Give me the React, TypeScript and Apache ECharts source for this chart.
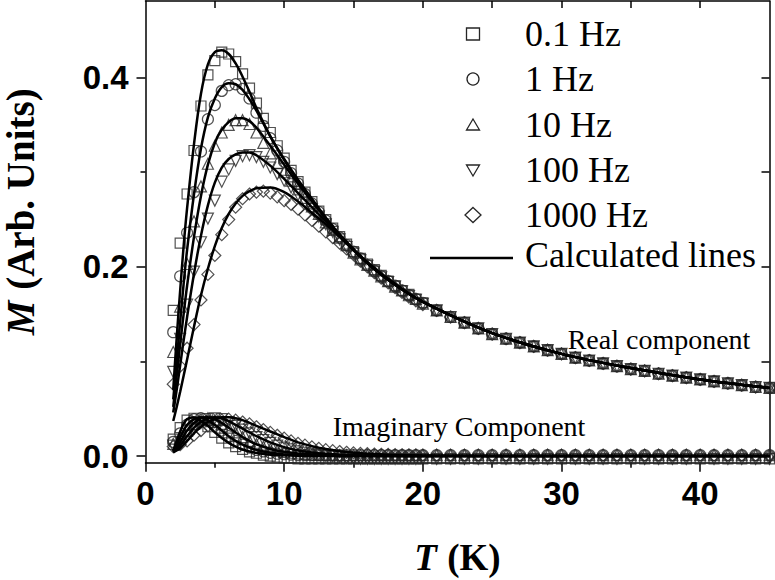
import React, { useEffect, useRef } from 'react';
import * as echarts from 'echarts';

// Temperatures of the measured points (K)
const pointT = [2, 2.5, 3, 3.5, 4, 4.5, 5, 5.5, 6, 6.5, 7, 7.5, 8, 8.5, 9, 9.5, 10, 10.5, 11, 11.5, 12, 12.5, 13, 13.5, 14, 14.5, 15, 15.5, 16, 16.5, 17, 17.5, 18, 18.5, 19, 19.5, 20,
  21, 22, 23, 24, 25, 26, 27, 28, 29, 30, 31, 32, 33, 34, 35, 36, 37, 38, 39, 40, 41, 42, 43, 44, 45];

// Real component, 2–20 K
const real01 = [0.154, 0.225, 0.277, 0.323, 0.370, 0.403, 0.418, 0.427, 0.425, 0.417, 0.404, 0.389, 0.373, 0.357, 0.342, 0.328, 0.315, 0.302, 0.290, 0.279, 0.269, 0.259, 0.250, 0.241, 0.232, 0.224, 0.216, 0.209, 0.203, 0.197, 0.191, 0.185, 0.180, 0.175, 0.171, 0.166, 0.162];
const real1 = [0.131, 0.190, 0.236, 0.279, 0.322, 0.356, 0.371, 0.386, 0.392, 0.393, 0.388, 0.378, 0.363, 0.349, 0.336, 0.323, 0.311, 0.299, 0.288, 0.277, 0.267, 0.258, 0.249, 0.240, 0.231, 0.223, 0.216, 0.209, 0.202, 0.196, 0.190, 0.185, 0.180, 0.175, 0.170, 0.166, 0.162];
const real10 = [0.110, 0.158, 0.203, 0.248, 0.285, 0.309, 0.328, 0.342, 0.350, 0.355, 0.355, 0.351, 0.342, 0.331, 0.320, 0.310, 0.300, 0.291, 0.282, 0.273, 0.264, 0.256, 0.247, 0.239, 0.231, 0.223, 0.215, 0.208, 0.202, 0.196, 0.190, 0.185, 0.179, 0.175, 0.170, 0.166, 0.161];
const real100 = [0.089, 0.124, 0.160, 0.195, 0.226, 0.251, 0.270, 0.290, 0.303, 0.312, 0.317, 0.318, 0.316, 0.311, 0.305, 0.298, 0.291, 0.284, 0.276, 0.268, 0.261, 0.253, 0.245, 0.237, 0.229, 0.221, 0.214, 0.207, 0.201, 0.195, 0.189, 0.184, 0.179, 0.174, 0.169, 0.165, 0.161];
const real1000 = [0.076, 0.095, 0.114, 0.139, 0.165, 0.192, 0.212, 0.234, 0.250, 0.263, 0.272, 0.277, 0.279, 0.280, 0.278, 0.274, 0.270, 0.266, 0.261, 0.255, 0.249, 0.243, 0.237, 0.231, 0.225, 0.219, 0.213, 0.206, 0.200, 0.194, 0.188, 0.183, 0.178, 0.173, 0.168, 0.164, 0.160];
// Real component, 21–45 K (all frequencies coincide)
const realTail = [0.154, 0.147, 0.141, 0.135, 0.129, 0.124, 0.120, 0.116, 0.112, 0.108, 0.104, 0.101, 0.098, 0.095, 0.092, 0.090, 0.087, 0.085, 0.083, 0.081, 0.079, 0.077, 0.075, 0.073, 0.072];

// Imaginary component, 2–20 K
const imag01 = [0.018, 0.030, 0.038, 0.040, 0.036, 0.031, 0.025, 0.019, 0.014, 0.010, 0.007, 0.0045, 0.003, 0.001, 0.0, -0.001, -0.002, -0.002, -0.003, -0.003, -0.003, -0.003, -0.003, -0.003, -0.003, -0.003, -0.003, -0.003, -0.003, -0.003, -0.003, -0.003, -0.003, -0.003, -0.003, -0.003, -0.003];
const imag1 = [0.015, 0.024, 0.033, 0.039, 0.040, 0.037, 0.032, 0.027, 0.021, 0.016, 0.012, 0.009, 0.0065, 0.005, 0.0035, 0.0025, 0.002, 0.0015, 0.001, 0.001, 0.001, 0.001, 0.001, 0.001, 0.001, 0.001, 0.001, 0.001, 0.001, 0.001, 0.001, 0.001, 0.001, 0.001, 0.001, 0.001, 0.001];
const imag10 = [0.013, 0.019, 0.027, 0.034, 0.039, 0.040, 0.038, 0.034, 0.030, 0.025, 0.020, 0.016, 0.0125, 0.0098, 0.0075, 0.006, 0.0045, 0.0035, 0.0027, 0.002, 0.0016, 0.0013, 0.001, 0.001, 0.001, 0.001, 0.001, 0.001, 0.001, 0.001, 0.001, 0.001, 0.001, 0.001, 0.001, 0.001, 0.001];
const imag100 = [0.011, 0.015, 0.021, 0.029, 0.035, 0.039, 0.040, 0.039, 0.036, 0.032, 0.028, 0.024, 0.020, 0.017, 0.014, 0.011, 0.009, 0.007, 0.005, 0.0035, 0.0025, 0.0015, 0.0005, 0.0, -0.001, -0.002, -0.002, -0.003, -0.003, -0.003, -0.003, -0.003, -0.003, -0.003, -0.003, -0.003, -0.003];
const imag1000 = [0.010, 0.012, 0.016, 0.022, 0.027, 0.032, 0.036, 0.038, 0.039, 0.038, 0.036, 0.034, 0.031, 0.028, 0.025, 0.022, 0.019, 0.016, 0.0135, 0.0115, 0.0098, 0.0082, 0.0068, 0.0057, 0.0048, 0.004, 0.0034, 0.0029, 0.0025, 0.0022, 0.0019, 0.0017, 0.0015, 0.0014, 0.0013, 0.0012, 0.0011];
// Imaginary component, 21–45 K
const imagTailUpper = [0.001, 0.001, 0.001, 0.001, 0.001, 0.001, 0.001, 0.001, 0.001, 0.001, 0.001, 0.001, 0.001, 0.001, 0.001, 0.001, 0.001, 0.001, 0.001, 0.001, 0.001, 0.001, 0.001, 0.001, 0.001];
const imagTailLower = [-0.003, -0.003, -0.003, -0.003, -0.003, -0.003, -0.003, -0.003, -0.003, -0.003, -0.003, -0.003, -0.003, -0.003, -0.003, -0.003, -0.003, -0.003, -0.003, -0.003, -0.003, -0.003, -0.003, -0.003, -0.003];

// Calculated lines
const lineT = [2, 2.25, 2.5, 2.75, 3, 3.5, 4, 4.5, 5, 5.5, 6, 6.5, 7, 7.5, 8, 9, 10, 11, 12, 13, 14, 16, 18, 20, 25, 30, 35, 40, 45];
const calcReal01 = [0.07, 0.125, 0.175, 0.222, 0.262, 0.330, 0.383, 0.414, 0.427, 0.429, 0.425, 0.415, 0.401, 0.385, 0.368, 0.338, 0.314, 0.292, 0.272, 0.252, 0.234, 0.204, 0.181, 0.163, 0.130, 0.108, 0.093, 0.081, 0.072];
const calcReal1 = [0.06, 0.10, 0.142, 0.182, 0.218, 0.277, 0.325, 0.358, 0.378, 0.390, 0.394, 0.393, 0.387, 0.377, 0.365, 0.338, 0.313, 0.291, 0.271, 0.252, 0.234, 0.204, 0.181, 0.163, 0.130, 0.108, 0.093, 0.081, 0.072];
const calcReal10 = [0.052, 0.085, 0.118, 0.150, 0.180, 0.232, 0.275, 0.308, 0.331, 0.345, 0.353, 0.357, 0.357, 0.354, 0.347, 0.328, 0.308, 0.288, 0.269, 0.251, 0.234, 0.204, 0.181, 0.163, 0.130, 0.108, 0.093, 0.081, 0.072];
const calcReal100 = [0.046, 0.070, 0.096, 0.122, 0.147, 0.193, 0.233, 0.265, 0.289, 0.305, 0.314, 0.319, 0.321, 0.321, 0.318, 0.307, 0.293, 0.278, 0.263, 0.248, 0.232, 0.204, 0.181, 0.163, 0.130, 0.108, 0.093, 0.081, 0.072];
const calcReal1000 = [0.037, 0.052, 0.068, 0.085, 0.102, 0.137, 0.170, 0.198, 0.222, 0.241, 0.256, 0.267, 0.275, 0.280, 0.283, 0.284, 0.279, 0.269, 0.257, 0.245, 0.232, 0.205, 0.182, 0.163, 0.130, 0.108, 0.093, 0.081, 0.072];
const calcImag01 = [0.006, 0.016, 0.026, 0.034, 0.039, 0.041, 0.037, 0.032, 0.025, 0.019, 0.014, 0.010, 0.007, 0.0048, 0.0033, 0.0015, 0.0008, 0.0004, 0.0002, 0.0001, 0, 0, 0, 0, 0, 0, 0, 0, 0];
const calcImag1 = [0.005, 0.012, 0.020, 0.027, 0.033, 0.039, 0.041, 0.038, 0.033, 0.027, 0.021, 0.016, 0.012, 0.009, 0.0065, 0.0035, 0.0018, 0.001, 0.0005, 0.0003, 0.0002, 0.0001, 0, 0, 0, 0, 0, 0, 0];
const calcImag10 = [0.005, 0.009, 0.015, 0.021, 0.027, 0.035, 0.040, 0.041, 0.039, 0.035, 0.030, 0.025, 0.020, 0.016, 0.0125, 0.0075, 0.0045, 0.0027, 0.0016, 0.001, 0.0006, 0.0002, 0.0001, 0, 0, 0, 0, 0, 0];
const calcImag100 = [0.004, 0.007, 0.011, 0.016, 0.021, 0.030, 0.036, 0.040, 0.041, 0.040, 0.037, 0.033, 0.029, 0.025, 0.021, 0.0145, 0.0095, 0.006, 0.0038, 0.0024, 0.0015, 0.0006, 0.0003, 0.0001, 0, 0, 0, 0, 0];
const calcImag1000 = [0.004, 0.006, 0.008, 0.012, 0.016, 0.024, 0.031, 0.036, 0.039, 0.041, 0.041, 0.040, 0.038, 0.035, 0.032, 0.026, 0.020, 0.0145, 0.0105, 0.0075, 0.0052, 0.0025, 0.0012, 0.0006, 0.0001, 0, 0, 0, 0];

const freqNames = ['0.1 Hz', '1 Hz', '10 Hz', '100 Hz', '1000 Hz'];
const lineName = 'Calculated lines';
const xMajorTicks = [0, 10, 20, 30, 40];
const xMinorTicks = [5, 15, 25, 35];
const xTopTicks = [5, 10, 15, 20, 25, 30, 35, 40];
const yMajorTicks = [0, 0.2, 0.4];
const yMinorTicks = [0.1, 0.3];
const yRightTicks = [0, 0.1, 0.2, 0.3, 0.4];

const zip = (xs: number[], ys: number[]) => xs.map((x, i) => [x, ys[i]]);

export default function App() {
  const ref = useRef<HTMLDivElement>(null);

  useEffect(() => {
    const chart = echarts.init(ref.current!, null, { renderer: 'svg' });

    const symbols = [
      { symbol: 'rect', rotate: 0, size: 10 },
      { symbol: 'circle', rotate: 0, size: 11 },
      { symbol: 'triangle', rotate: 0, size: 11 },
      { symbol: 'triangle', rotate: 180, size: 11 },
      { symbol: 'diamond', rotate: 0, size: 12 },
    ];
    const realLow = [real01, real1, real10, real100, real1000];
    const imagLow = [imag01, imag1, imag10, imag100, imag1000];
    const imagTails = [imagTailLower, imagTailUpper, imagTailUpper, imagTailLower, imagTailUpper];
    const calcReal = [calcReal01, calcReal1, calcReal10, calcReal100, calcReal1000];
    const calcImag = [calcImag01, calcImag1, calcImag10, calcImag100, calcImag1000];

    const markerColor = '#262626';
    const markerStyle = { color: 'rgba(0,0,0,0)', borderColor: markerColor, borderWidth: 1.2 };

    const series: any[] = [];
    freqNames.forEach((name, i) => {
      const s = symbols[i];
      series.push({
        type: 'scatter', name, symbol: s.symbol, symbolRotate: s.rotate, symbolSize: s.size,
        itemStyle: markerStyle, z: 2,
        data: zip(pointT, realLow[i].concat(realTail)),
      });
      series.push({
        type: 'scatter', name, symbol: s.symbol, symbolRotate: s.rotate, symbolSize: s.size,
        itemStyle: markerStyle, z: 2,
        data: zip(pointT, imagLow[i].concat(imagTails[i])),
      });
    });
    [...calcReal, ...calcImag].forEach((vals) => {
      series.push({
        type: 'line', name: lineName, symbol: 'none', smooth: 0.35, z: 3,
        lineStyle: { color: '#000', width: 2.5 }, itemStyle: { color: '#000' },
        data: zip(lineT, vals),
      });
    });

    // Legend drawn as graphic elements (symbol + text per row)
    const legendX = 473;
    const textX = 525;
    const rowY = [34, 79, 125, 170, 215];
    const lineRowY = 258;
    const stroke = { fill: 'none', stroke: markerColor, lineWidth: 1.3 };
    const legendShapes: any[] = [
      { type: 'rect', shape: { x: legendX - 6.5, y: rowY[0] - 6, width: 13, height: 12 }, style: stroke },
      { type: 'circle', shape: { cx: legendX, cy: rowY[1], r: 6 }, style: stroke },
      { type: 'polygon', shape: { points: [[legendX, rowY[2] - 6], [legendX + 6.5, rowY[2] + 5], [legendX - 6.5, rowY[2] + 5]] }, style: stroke },
      { type: 'polygon', shape: { points: [[legendX, rowY[3] + 6], [legendX + 6.5, rowY[3] - 5], [legendX - 6.5, rowY[3] - 5]] }, style: stroke },
      { type: 'polygon', shape: { points: [[legendX, rowY[4] - 7.5], [legendX + 8, rowY[4]], [legendX, rowY[4] + 7.5], [legendX - 8, rowY[4]]] }, style: stroke },
      { type: 'line', shape: { x1: 430, y1: lineRowY, x2: 513, y2: lineRowY }, style: { stroke: '#000', lineWidth: 2.5 } },
    ];
    const legendTexts: any[] = [...freqNames, lineName].map((t, i) => ({
      type: 'text', x: textX, y: i < 5 ? rowY[i] : lineRowY - 3,
      style: { text: t, fontFamily: 'Liberation Serif', fontSize: 36, fill: '#000', align: 'left', verticalAlign: 'middle' },
    }));

    const axisLineStyle = { color: '#000', width: 1.5 };
    const tickLabel = { fontFamily: 'Liberation Sans', fontWeight: 'bold' as const, fontSize: 33, color: '#000' };
    const nameRich = {
      i: { fontFamily: 'Liberation Serif', fontStyle: 'italic', fontWeight: 'bold', fontSize: 37, color: '#000' },
      b: { fontFamily: 'Liberation Serif', fontWeight: 'bold', fontSize: 37, color: '#000' },
    };
    const yNameRich = {
      i: { ...nameRich.i, fontSize: 39 },
      b: { ...nameRich.b, fontSize: 39 },
    };

    chart.setOption({
      animation: false,
      backgroundColor: '#fff',
      grid: { left: 145.5, right: 5.5, top: 1, bottom: 117.3, containLabel: false, outerBoundsMode: 'none' },
      xAxis: [
        {
          type: 'value', min: 0, max: 45, position: 'bottom',
          axisLine: { show: true, onZero: false, lineStyle: axisLineStyle },
          axisTick: { show: true, customValues: xMajorTicks, length: 9, lineStyle: axisLineStyle },
          axisLabel: { ...tickLabel, customValues: xMajorTicks, margin: 14 },
          splitLine: { show: false },
          name: '{i|T} {b|(K)}', nameLocation: 'middle', nameGap: 76,
          nameTextStyle: { fontSize: 37, rich: nameRich },
        },
        {
          type: 'value', min: 0, max: 45, position: 'bottom',
          axisLine: { show: false, onZero: false },
          axisTick: { show: true, customValues: xMinorTicks, length: 5, lineStyle: axisLineStyle },
          axisLabel: { show: false }, splitLine: { show: false },
        },
        {
          type: 'value', min: 0, max: 45, position: 'top',
          axisLine: { show: true, onZero: false, lineStyle: axisLineStyle },
          axisTick: { show: true, inside: true, customValues: xTopTicks, length: 7, lineStyle: axisLineStyle },
          axisLabel: { show: false }, splitLine: { show: false },
        },
      ],
      yAxis: [
        {
          type: 'value', min: -0.007, max: 0.481, position: 'left',
          axisLine: { show: true, onZero: false, lineStyle: axisLineStyle },
          axisTick: { show: true, customValues: yMajorTicks, length: 9, lineStyle: axisLineStyle },
          axisLabel: { ...tickLabel, customValues: yMajorTicks, margin: 17, formatter: (v: number) => v.toFixed(1) },
          splitLine: { show: false },
          name: '{i|M} {b|(Arb. Units)}', nameLocation: 'middle', nameGap: 106, nameRotate: 90,
          nameTextStyle: { fontSize: 39, rich: yNameRich, padding: [0, 0, 0, 40] },
        },
        {
          type: 'value', min: -0.007, max: 0.481, position: 'left',
          axisLine: { show: false, onZero: false },
          axisTick: { show: true, customValues: yMinorTicks, length: 5, lineStyle: axisLineStyle },
          axisLabel: { show: false }, splitLine: { show: false },
        },
        {
          type: 'value', min: -0.007, max: 0.481, position: 'right',
          axisLine: { show: true, onZero: false, lineStyle: axisLineStyle },
          axisTick: { show: true, inside: true, customValues: yRightTicks, length: 8, lineStyle: axisLineStyle },
          axisLabel: { show: false }, splitLine: { show: false },
        },
      ],
      graphic: [
        ...legendShapes.map((g) => ({ ...g, z: 10 })),
        ...legendTexts.map((g) => ({ ...g, z: 10 })),
        {
          type: 'text', x: 659, y: 339, z: 10,
          style: { text: 'Real component', fontFamily: 'Liberation Serif', fontSize: 28, fill: '#000', align: 'center', verticalAlign: 'middle' },
        },
        {
          type: 'text', x: 459, y: 426, z: 10,
          style: { text: 'Imaginary Component', fontFamily: 'Liberation Serif', fontSize: 28, fill: '#000', align: 'center', verticalAlign: 'middle' },
        },
      ],
      series,
    });

    return () => chart.dispose();
  }, []);

  return <div ref={ref} style={{ position: 'absolute', left: 0, top: 0, width: 775, height: 580 }} />;
}
